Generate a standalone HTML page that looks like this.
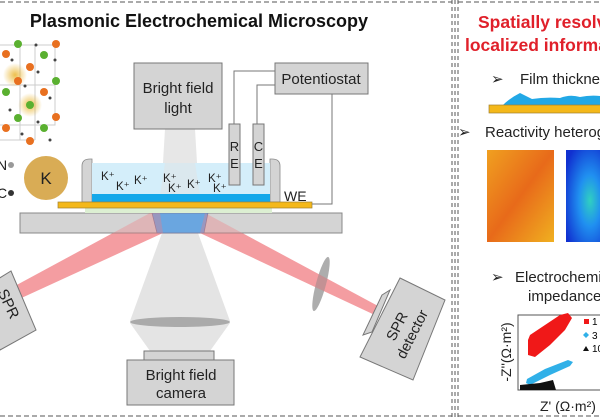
<!DOCTYPE html>
<html><head><meta charset="utf-8"><style>
html,body{margin:0;padding:0;background:#fff;}
svg{display:block;font-family:"Liberation Sans",sans-serif;}
</style></head><body>
<svg width="600" height="420" viewBox="0 0 600 420" xmlns="http://www.w3.org/2000/svg">
<defs>
<radialGradient id="halo"><stop offset="0" stop-color="#e8b020" stop-opacity=".8"/><stop offset="1" stop-color="#e8b020" stop-opacity="0"/></radialGradient>
<linearGradient id="heat1" x1="0" y1="0" x2="1" y2="1"><stop offset="0" stop-color="#f0a020"/><stop offset=".5" stop-color="#e86a1a"/><stop offset="1" stop-color="#f0b020"/></linearGradient>
<radialGradient id="heat2" cx=".6" cy=".55" r=".7"><stop offset="0" stop-color="#30d0c0"/><stop offset=".4" stop-color="#2090f0"/><stop offset="1" stop-color="#1030d0"/></radialGradient>
</defs>
<line x1="0" y1="2" x2="452" y2="2" stroke="#555" stroke-dasharray="5,3"/>
<line x1="0" y1="416" x2="452" y2="416" stroke="#555" stroke-dasharray="5,3"/>
<line x1="452" y1="0" x2="452" y2="420" stroke="#555" stroke-dasharray="4,3"/>
<line x1="455" y1="0" x2="455" y2="420" stroke="#555" stroke-dasharray="4,3"/>
<line x1="458" y1="0" x2="458" y2="420" stroke="#555" stroke-dasharray="4,3"/>
<line x1="458" y1="2" x2="600" y2="2" stroke="#555" stroke-dasharray="5,3"/>
<line x1="458" y1="416" x2="600" y2="416" stroke="#555" stroke-dasharray="5,3"/>

<text x="199" y="27" font-size="18" font-weight="bold" text-anchor="middle" fill="#111">Plasmonic Electrochemical Microscopy</text>

<g stroke="#ccc" stroke-width="1" fill="none">
<path d="M0,45 H55 V125 H0 M0,85 H55 M20,45 V140 M0,140 H35 M35,45 V140"/>
</g>
<circle cx="15" cy="75" r="12" fill="url(#halo)"/><circle cx="30" cy="105" r="12" fill="url(#halo)"/>
<g fill="#e87020"><circle cx="56" cy="44" r="4"/><circle cx="6" cy="54" r="4"/><circle cx="30" cy="67" r="4"/><circle cx="18" cy="81" r="4"/><circle cx="44" cy="92" r="4"/><circle cx="56" cy="117" r="4"/><circle cx="6" cy="128" r="4"/><circle cx="30" cy="141" r="4"/></g>
<g fill="#5ab030"><circle cx="18" cy="44" r="4"/><circle cx="44" cy="55" r="4"/><circle cx="56" cy="81" r="4"/><circle cx="6" cy="92" r="4"/><circle cx="30" cy="105" r="4"/><circle cx="18" cy="118" r="4"/><circle cx="44" cy="128" r="4"/></g>
<g fill="#444"><circle cx="36" cy="45" r="1.5"/><circle cx="12" cy="60" r="1.5"/><circle cx="38" cy="72" r="1.5"/><circle cx="25" cy="86" r="1.5"/><circle cx="50" cy="98" r="1.5"/><circle cx="10" cy="110" r="1.5"/><circle cx="38" cy="122" r="1.5"/><circle cx="22" cy="134" r="1.5"/><circle cx="55" cy="60" r="1.5"/><circle cx="50" cy="140" r="1.5"/></g>
<text x="-3" y="170" font-size="14" fill="#222">N</text><circle cx="11" cy="165" r="3" fill="#999"/>
<text x="-3" y="198" font-size="14" fill="#222">C</text><circle cx="11" cy="193" r="3" fill="#333"/>
<circle cx="46" cy="178" r="22" fill="#d9ac55"/>
<text x="46" y="184" font-size="17" text-anchor="middle" fill="#222">K</text>

<polygon points="13,287 150,213 160,213 163,233 17,300" fill="#f07a80" opacity=".6"/>
<polygon points="205,213 378,306 377,316 200,233" fill="#f07a80" opacity=".6"/>
<polygon points="165,129 195,129 200,213 160,213" fill="#ddd" opacity=".7"/>
<polygon points="162,233 198,233 230,321 130,321" fill="#ddd" opacity=".8"/>
<polygon points="130,323 230,323 210,351 150,351" fill="#ddd" opacity=".8"/>
<ellipse cx="180" cy="322" rx="50" ry="5" fill="#aaa"/>
<ellipse cx="321" cy="284" rx="5" ry="28" transform="rotate(15 321 284)" fill="#999" opacity=".8"/>

<rect x="20" y="213" width="322" height="20" fill="#d4d4d4" stroke="#888"/>
<polygon points="152,213 208,213 204,233 157,233" fill="#6aa6e0" stroke="#7a7a9a" stroke-width=".7"/>
<polygon points="13,287 150,213 160,213 163,233 17,300" fill="#f07a80" opacity=".35"/>
<polygon points="205,213 378,306 377,316 200,233" fill="#f07a80" opacity=".35"/>

<rect x="85" y="208" width="187" height="5" fill="#dcefd2"/>
<path d="M82,202 V166 Q82,159 90,159 H92 V202 Z" fill="#d4d4d4" stroke="#888" stroke-width=".8"/>
<path d="M280,202 V166 Q280,159 272,159 H270 V202 Z" fill="#d4d4d4" stroke="#888" stroke-width=".8"/>
<rect x="92" y="163" width="178" height="32" fill="#d4eefa"/>
<polygon points="165,163 195,163 200,195 160,195" fill="#e2e2e2" opacity=".5"/>
<rect x="92" y="194" width="178" height="8" fill="#14a8ea"/>
<rect x="58" y="202" width="254" height="6" fill="#f4b81a" stroke="#a08030" stroke-width=".7"/>
<g font-size="11.5" fill="#222">
<text x="101" y="180">K⁺</text><text x="116" y="190">K⁺</text><text x="134" y="184">K⁺</text>
<text x="163" y="182">K⁺</text><text x="168" y="192">K⁺</text><text x="187" y="188">K⁺</text>
<text x="208" y="182">K⁺</text><text x="213" y="192">K⁺</text>
</g>
<text x="284" y="201" font-size="14" fill="#222">WE</text>
<polyline points="312,204 332,204 332,94" fill="none" stroke="#777" stroke-width="1"/>
<polyline points="234,124 234,71 275,71" fill="none" stroke="#777" stroke-width="1"/>
<polyline points="257,124 257,85 275,85" fill="none" stroke="#777" stroke-width="1"/>
<rect x="229" y="124" width="11" height="61" fill="#d4d4d4" stroke="#777"/>
<rect x="253" y="124" width="11" height="61" fill="#d4d4d4" stroke="#777"/>
<text x="234.5" y="151" font-size="13" text-anchor="middle" fill="#222">R</text>
<text x="234.5" y="168" font-size="13" text-anchor="middle" fill="#222">E</text>
<text x="258.5" y="151" font-size="13" text-anchor="middle" fill="#222">C</text>
<text x="258.5" y="168" font-size="13" text-anchor="middle" fill="#222">E</text>

<rect x="134" y="63" width="88" height="66" fill="#d4d4d4" stroke="#777"/>
<text x="178" y="93" font-size="15" text-anchor="middle" fill="#222">Bright field</text>
<text x="178" y="113" font-size="15" text-anchor="middle" fill="#222">light</text>
<rect x="275" y="63" width="93" height="31" fill="#d4d4d4" stroke="#777"/>
<text x="321" y="84" font-size="15" text-anchor="middle" fill="#222">Potentiostat</text>

<rect x="144" y="351" width="70" height="9" fill="#d4d4d4" stroke="#777"/>
<rect x="127" y="360" width="107" height="45" fill="#d4d4d4" stroke="#777"/>
<text x="181" y="380" font-size="15" text-anchor="middle" fill="#222">Bright field</text>
<text x="181" y="398" font-size="15" text-anchor="middle" fill="#222">camera</text>

<polygon points="11,271 36,330 0,350 -20,290" fill="#d4d4d4" stroke="#777"/>
<text transform="translate(4,306) rotate(65)" font-size="15" text-anchor="middle" fill="#222">SPR</text>

<polygon points="382,295 390,290 372,332 363,335" fill="#d4d4d4" stroke="#777"/>
<polygon points="400,278 445,300 413,380 360,357" fill="#d4d4d4" stroke="#777"/>
<g transform="translate(404,330) rotate(-63)" font-size="14.5" text-anchor="middle" fill="#222">
<text x="0" y="-3">SPR</text><text x="0" y="14">detector</text></g>

<text x="478" y="28" font-size="17.5" font-weight="bold" fill="#e0202a">Spatially resolved</text>
<text x="465" y="51" font-size="17.5" font-weight="bold" fill="#e0202a">localized information</text>
<text x="491" y="84" font-size="15" fill="#222">➢</text>
<text x="520" y="84" font-size="15" fill="#222">Film thickness</text>
<path d="M503,105 Q510,98 520,93 Q526,96 532,99 Q545,97 560,98 Q570,94 580,97 Q590,95 600,96 V105 Z" fill="#22a8e6"/>
<rect x="489" y="105" width="115" height="8" fill="#f4b81a" stroke="#a08030" stroke-width=".7"/>
<text x="458" y="137" font-size="15" fill="#222">➢</text>
<text x="485" y="137" font-size="15" fill="#222">Reactivity heterogeneity</text>
<rect x="487" y="150" width="67" height="92" fill="url(#heat1)"/>
<rect x="566" y="150" width="40" height="92" fill="url(#heat2)"/>
<text x="491" y="282" font-size="15" fill="#222">➢</text>
<text x="515" y="282" font-size="15" fill="#222">Electrochemical</text>
<text x="528" y="301" font-size="15" fill="#222">impedance</text>
<rect x="518" y="315" width="90" height="75" fill="#fff" stroke="#555"/>
<polygon points="530,335 545,325 560,315 568,313 572,318 565,330 550,345 535,357 528,355 528,340" fill="#f01818"/>
<polygon points="527,379 545,369 568,360 573,362 570,366 550,375 530,385 526,383" fill="#30b0e8"/>
<polygon points="520,390 520,385 540,383 553,380 556,390" fill="#111"/>
<rect x="584" y="319" width="5" height="5" fill="#f01818"/><text x="592" y="325" font-size="10">1</text>
<polygon points="586,332 589,335 586,338 583,335" fill="#30b0e8"/><text x="592" y="339" font-size="10">3</text>
<polygon points="586,346 589,351 583,351" fill="#111"/><text x="592" y="352" font-size="10">10</text>
<text transform="translate(511,352) rotate(-90)" font-size="14" text-anchor="middle" fill="#222">-Z''(Ω·m²)</text>
<text x="540" y="411" font-size="14" fill="#222">Z' (Ω·m²)</text>
</svg>
</body></html>
